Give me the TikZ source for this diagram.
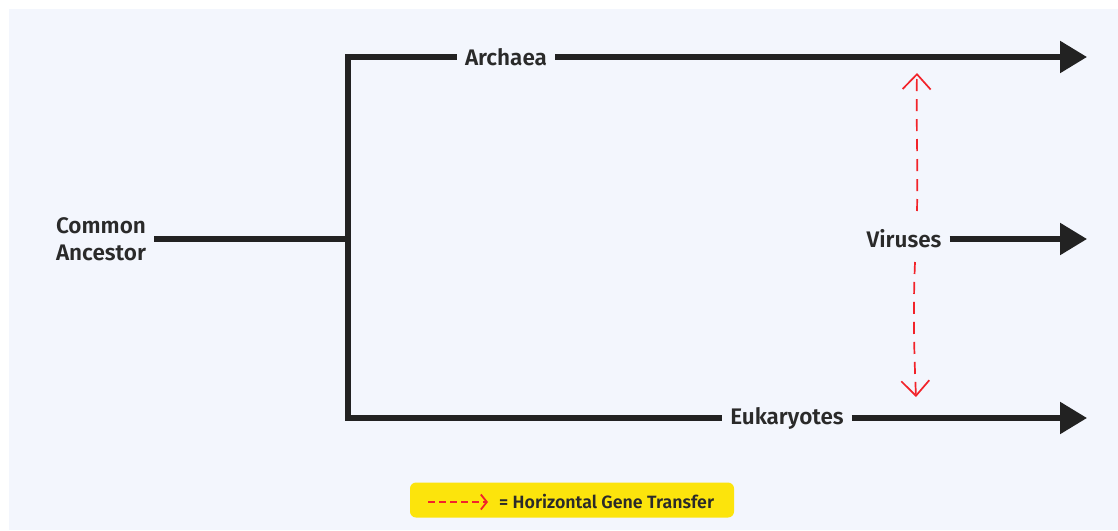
\documentclass[tikz,border=0pt]{standalone}
\usepackage{fontspec}
\setmainfont{Fira Sans}[BoldFont={Fira Sans SemiBold}]
\usetikzlibrary{arrows.meta}
\definecolor{bgc}{HTML}{F3F6FD}
\definecolor{ink}{HTML}{222222}
\definecolor{txt}{HTML}{2A2A2A}
\definecolor{hgt}{HTML}{F2232A}
\definecolor{legy}{HTML}{FCE40C}
\begin{document}
\begin{tikzpicture}[x=1pt,y=-1pt,
  lab/.style={font=\fontsize{22.5}{27}\selectfont\bfseries, text=txt, inner xsep=8pt, inner ysep=2pt, align=center},
  branch/.style={draw=ink, line width=5.5pt},
  tipped/.style={branch, -{Triangle[length=27pt,width=31pt]}},
  hgtline/.style={draw=hgt, line width=1.7pt, dash pattern=on 12pt off 8pt, -{Straight Barb[length=15pt,width=28pt,line width=1.7pt]}}
]
\useasboundingbox (0,0) rectangle (1118,530);
\fill[white] (0,0) rectangle (1118,530);
\fill[bgc] (9,9) rectangle (1118,530);

% nodes
\node[lab] (ca) at (101,239) {Common\\Ancestor};
\node[lab] (arch) at (506,57) {Archaea};
\node[lab] (euk) at (787,418) {Eukaryotes};
\node[lab] (vir) at (904,239) {Viruses};

% coordinates
\coordinate (split) at (348,239);
\coordinate (ctop) at (348,57);
\coordinate (cbot) at (348,418);
\coordinate (endA) at (1087,57);
\coordinate (endV) at (1087,239);
\coordinate (endE) at (1087,418);

% tree
\draw[branch] (ca.east) -- (split);
\draw[branch, line join=miter] (arch.west) -- (ctop) -- (cbot) -- (euk.west);
\draw[tipped] (arch.east) -- (endA);
\draw[tipped] (vir.east) -- (endV);
\draw[tipped] (euk.east) -- (endE);

% horizontal gene transfer
\coordinate (hTopTip) at (917,73);
\coordinate (hTopEnd) at (917,211);
\coordinate (hBotEnd) at (915,262);
\coordinate (hBotTip) at (916,397);
\draw[hgtline] (hTopEnd) .. controls (918,160) and (916,120) .. (hTopTip);
\draw[hgtline] (hBotEnd) .. controls (913,310) and (914,350) .. (hBotTip);

% legend
\node[fill=legy, rounded corners=6pt, minimum width=324pt, minimum height=35pt, inner sep=0pt] (leg) at (572,500) {};
\coordinate (legA) at (428,502);
\coordinate (legB) at (488,502);
\draw[draw=hgt, line width=1.8pt, dash pattern=on 7pt off 4pt, -{Straight Barb[length=6pt,width=15pt,line width=1.8pt]}] (legA) -- (legB);
\node[font=\fontsize{17.8}{20}\selectfont\bfseries, text=txt, anchor=west, inner sep=0pt] (legt) at (499,501) {= Horizontal Gene Transfer};
\end{tikzpicture}
\end{document}
